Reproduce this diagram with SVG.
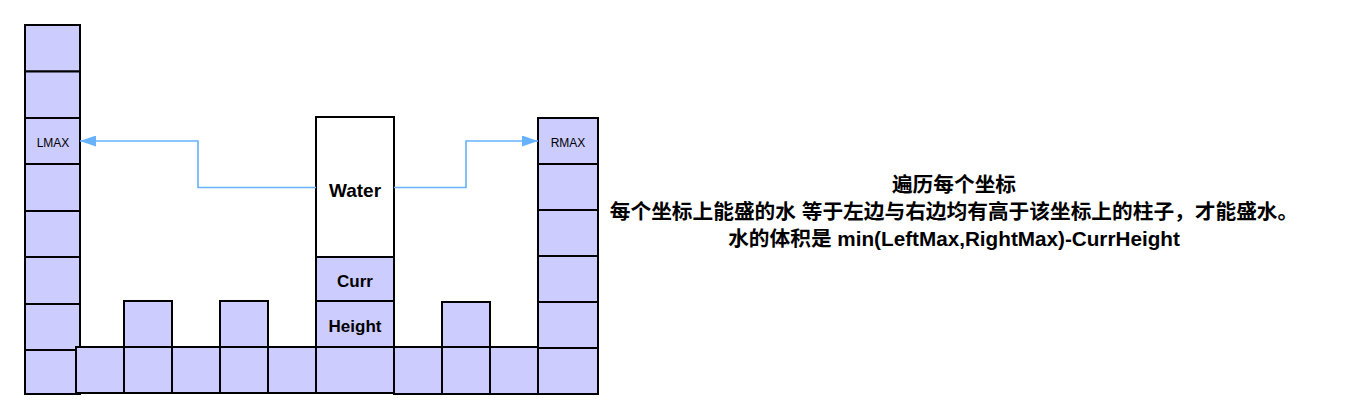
<svg xmlns="http://www.w3.org/2000/svg" width="1353" height="419" viewBox="0 0 1353 419">
<style>
.c{fill:#CCCCFF;stroke:#000;stroke-width:2}
.w{fill:#FFFFFF;stroke:#000;stroke-width:2}
.lbl{font-family:"Liberation Sans",Arial,sans-serif;fill:#000;text-anchor:middle}
.small{font-size:12px}
.big{font-size:17px;font-weight:bold}
.desc{font-family:"Liberation Sans",Arial,"Noto Sans CJK SC",sans-serif;font-size:20.7px;font-weight:bold;fill:#000;text-anchor:middle}
.conn{fill:none;stroke:#66B2FF;stroke-width:1.6}
</style>
<defs>
<marker id="ah" markerUnits="userSpaceOnUse" viewBox="0 0 16 11" refX="16" refY="5.5" markerWidth="16" markerHeight="11" orient="auto">
<path d="M0,0 L16,5.5 L0,11 z" fill="#66B2FF"/>
</marker>
</defs>
<rect width="1353" height="419" fill="#FFFFFF"/>
<!-- left column -->
<g id="l1"><rect class="c" x="25" y="25" width="55" height="46.5"/></g>
<g id="l2"><rect class="c" x="25" y="71.5" width="55" height="46.5"/></g>
<g id="lmax"><rect class="c" x="25" y="118" width="55" height="46"/><text class="lbl small" x="53" y="147">LMAX</text></g>
<g id="l4"><rect class="c" x="25" y="164" width="55" height="47"/></g>
<g id="l5"><rect class="c" x="25" y="211" width="55" height="46"/></g>
<g id="l6"><rect class="c" x="25" y="257" width="55" height="47"/></g>
<g id="l7"><rect class="c" x="25" y="304" width="55" height="46"/></g>
<g id="l8"><rect class="c" x="25" y="350" width="55" height="44"/></g>
<!-- bottom row left part -->
<g id="b1"><rect class="c" x="76" y="347" width="48" height="46"/></g>
<g id="b2"><rect class="c" x="124" y="347" width="48" height="46"/></g>
<g id="b2t"><rect class="c" x="124" y="301" width="48" height="46"/></g>
<g id="b3"><rect class="c" x="172" y="347" width="48" height="46"/></g>
<g id="b4"><rect class="c" x="220" y="347" width="48" height="46"/></g>
<g id="b4t"><rect class="c" x="220" y="301" width="48" height="46"/></g>
<g id="b5"><rect class="c" x="268" y="347" width="48" height="46"/></g>
<!-- middle column -->
<g id="water"><rect class="w" x="316" y="117" width="78" height="140"/><text class="lbl" x="355" y="196.5" style="font-size:19px;font-weight:bold">Water</text></g>
<g id="curr"><rect class="c" x="316" y="257" width="78" height="44"/><text class="lbl big" x="355" y="287">Curr</text></g>
<g id="height"><rect class="c" x="316" y="301" width="78" height="46"/><text class="lbl big" x="355" y="332">Height</text></g>
<g id="mbase"><rect class="c" x="316" y="347" width="78" height="46"/></g>
<!-- bottom row right part -->
<g id="b7"><rect class="c" x="394" y="347" width="48" height="47"/></g>
<g id="b8"><rect class="c" x="442" y="347" width="48" height="47"/></g>
<g id="b8t"><rect class="c" x="442" y="302" width="48" height="45"/></g>
<g id="b9"><rect class="c" x="490" y="347" width="48" height="47"/></g>
<!-- right column -->
<g id="rmax"><rect class="c" x="538" y="118" width="60" height="46"/><text class="lbl small" x="568" y="147">RMAX</text></g>
<g id="r2"><rect class="c" x="538" y="164" width="60" height="46"/></g>
<g id="r3"><rect class="c" x="538" y="210" width="60" height="46"/></g>
<g id="r4"><rect class="c" x="538" y="256" width="60" height="46"/></g>
<g id="r5"><rect class="c" x="538" y="302" width="60" height="46"/></g>
<g id="r6"><rect class="c" x="538" y="348" width="60" height="46"/></g>
<!-- connectors -->
<g id="connectors">
<path class="conn" d="M316,187.5 H198 V141 H80" marker-end="url(#ah)"/>
<path class="conn" d="M394,187.5 H466 V141 H538" marker-end="url(#ah)"/>
</g>
<!-- description -->
<g id="description">
<text class="desc" x="954" y="192">遍历每个坐标</text>
<text class="desc" x="954" y="219">每个坐标上能盛的水 等于左边与右边均有高于该坐标上的柱子，才能盛水。</text>
<text class="desc" x="954" y="246">水的体积是 min(LeftMax,RightMax)-CurrHeight</text>
</g>
</svg>
